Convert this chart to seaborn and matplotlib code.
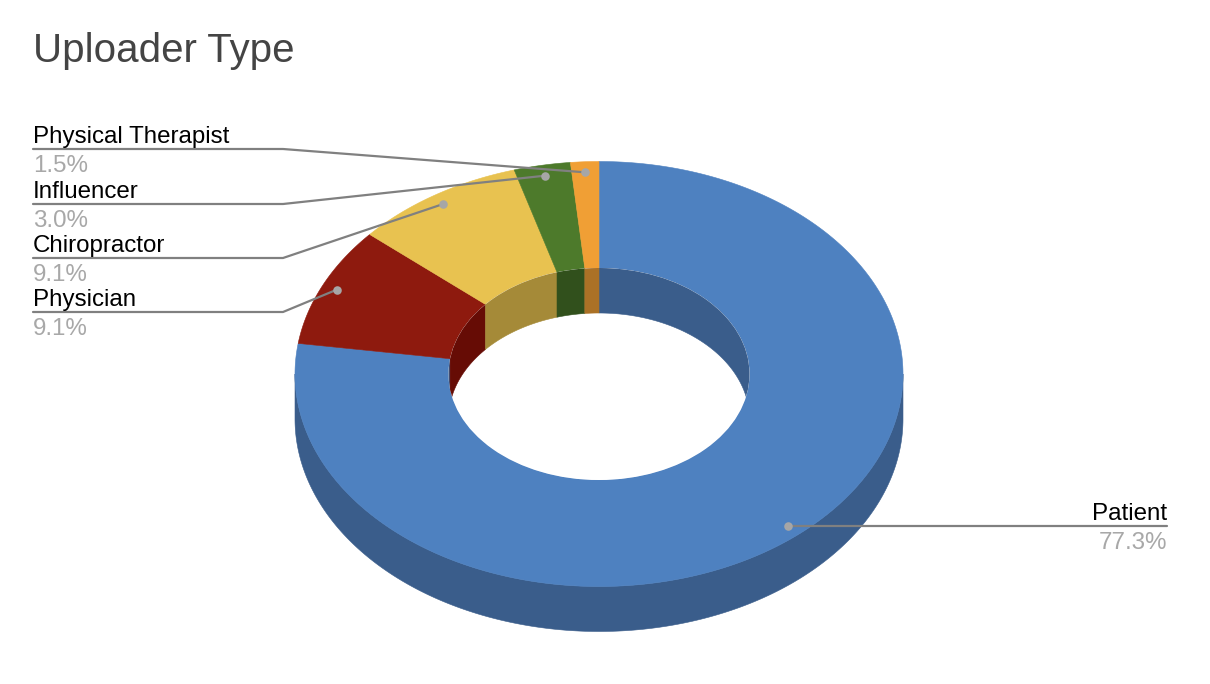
import numpy as np
import matplotlib
matplotlib.use('Agg')
import matplotlib.pyplot as plt
from matplotlib.patches import Ellipse
import seaborn as sns

# Data
categories = ['Patient', 'Physician', 'Chiropractor', 'Influencer', 'Physical Therapist']
shares = [77.3, 9.1, 9.1, 3.0, 1.5]
share_labels = ['77.3%', '9.1%', '9.1%', '3.0%', '1.5%']

top_colors = ['#4e81c0', '#8e1a0e', '#e8c250', '#4d7a2b', '#f09f35']
wall_colors = ['#3a5d8b', '#660c05', '#a58a38', '#31501c', '#ab7126']

# Layout, in pixels of the picture
CX, CY = 599, 374
RX, RY = 304, 212.5
HOLE_RX, HOLE_RY = 150.5, 106
DEPTH = 45
DOT_R = 0.95
ELBOW_X = 283
LEFT_X = 33
RIGHT_X = 1167
LABEL_Y = {'Patient': 526, 'Physician': 312, 'Chiropractor': 258,
           'Influencer': 204, 'Physical Therapist': 149}
LINE_COLOR = '#808080'
DOT_COLOR = '#a6a6a6'
SHARE_COLOR = '#a8a8a8'


def arc(a0, a1, rx, ry, dy=0):
    # angles in degrees, clockwise from 12 o'clock
    t = np.radians(np.linspace(a0, a1, max(int(abs(a1 - a0) * 3), 2)))
    return CX + rx * np.sin(t), CY - ry * np.cos(t) + dy


def band(ax, a0, a1, color, rx, ry, dy0, dy1, rx2=None, ry2=None, **kw):
    rx2 = rx if rx2 is None else rx2
    ry2 = ry if ry2 is None else ry2
    x0, y0 = arc(a0, a1, rx, ry, dy0)
    x1, y1 = arc(a1, a0, rx2, ry2, dy1)
    return ax.fill(np.r_[x0, x1], np.r_[y0, y1], color=color, lw=0.4, **kw)


sns.set_theme(style='white')
plt.rcParams['font.family'] = ['Liberation Sans', 'DejaVu Sans']

fig, ax = plt.subplots(figsize=(12.1, 6.84), dpi=100)
ax.set_position([0, 0, 1, 1])
ax.set_xlim(0, 1210)
ax.set_ylim(684, 0)
ax.axis('off')

edges = np.r_[0, np.cumsum(shares)] / np.sum(shares) * 360

# outer wall, front half only
for i, color in enumerate(wall_colors):
    a0, a1 = max(edges[i], 90), min(edges[i + 1], 270)
    if a1 > a0:
        band(ax, a0, a1, color, RX, RY, 0, DEPTH)

# top face
for i, color in enumerate(top_colors):
    band(ax, edges[i], edges[i + 1], color, RX, RY, 0, 0, HOLE_RX, HOLE_RY)

# inner wall, back half only, seen through the hole
hole = Ellipse((CX, CY), 2 * HOLE_RX, 2 * HOLE_RY, facecolor='white', edgecolor='none')
ax.add_patch(hole)
for i, color in enumerate(wall_colors):
    for lo, hi in [(0, 90), (270, 360)]:
        a0, a1 = max(edges[i], lo), min(edges[i + 1], hi)
        if a1 > a0:
            for poly in band(ax, a0, a1, color, HOLE_RX, HOLE_RY, 0, DEPTH):
                poly.set_clip_path(hole)

# leader lines and labels
mids = (edges[:-1] + edges[1:]) / 2
for name, pct, mid in zip(categories, share_labels, mids):
    dot_x = CX + DOT_R * RX * np.sin(np.radians(mid))
    dot_y = CY - DOT_R * RY * np.cos(np.radians(mid))
    y = LABEL_Y[name]
    if name == 'Patient':
        xs, ys = [dot_x, RIGHT_X], [y, y]
        tx, ha = RIGHT_X, 'right'
    else:
        xs, ys = [dot_x, ELBOW_X, LEFT_X], [dot_y, y, y]
        tx, ha = LEFT_X, 'left'
    sns.lineplot(x=xs, y=ys, sort=False, estimator=None, color=LINE_COLOR, lw=1.6, ax=ax)
    sns.scatterplot(x=[xs[0]], y=[ys[0]], color=DOT_COLOR, s=38, linewidth=0, zorder=5, ax=ax)
    ax.text(tx, y - 6, name, ha=ha, va='baseline', fontsize=17.4, color='#000000')
    ax.text(tx, y + 23, pct, ha=ha, va='baseline', fontsize=17.4, color=SHARE_COLOR)

ax.text(33, 62, 'Uploader Type', ha='left', va='baseline', fontsize=29, color='#444444')

fig.savefig('out.png', dpi=100)
